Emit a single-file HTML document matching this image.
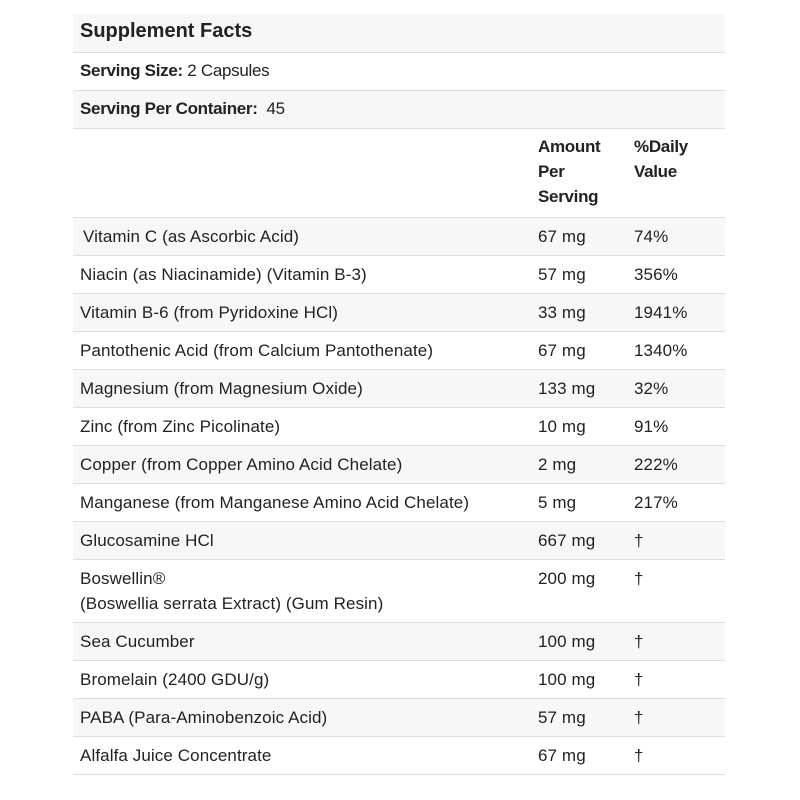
<!DOCTYPE html>
<html><head><meta charset="utf-8"><style>
body{margin:0;width:800px;height:800px;background:#fff;font-family:"Liberation Sans",sans-serif;color:#222;position:relative;overflow:hidden}
.r{position:absolute;left:73px;width:652px;border-bottom:1px solid #ddd;box-sizing:border-box}
.g{background:#f7f7f7}
.t{position:absolute;font-size:17px;letter-spacing:0.1px;white-space:nowrap;line-height:25px}
b{font-weight:bold}
</style></head><body>
<div class="r g" style="top:14px;height:39px"></div>
<div class="t" style="left:80px;top:19px;font-size:20px;font-weight:bold;letter-spacing:0">Supplement Facts</div>
<div class="r" style="top:53px;height:38px"></div>
<div class="t" style="left:80px;top:58px;letter-spacing:-0.3px"><b>Serving Size:</b> 2 Capsules</div>
<div class="r g" style="top:91px;height:38px"></div>
<div class="t" style="left:80px;top:96px;letter-spacing:-0.3px"><b>Serving Per Container:</b>&nbsp; 45</div>
<div class="r" style="top:129px;height:89px"></div>
<div class="t" style="left:538px;top:134px;font-weight:bold;letter-spacing:-0.3px">Amount<br>Per<br>Serving</div>
<div class="t" style="left:634px;top:134px;font-weight:bold;letter-spacing:-0.3px">%Daily<br>Value</div>

<div class="r g" style="top:218px;height:38px"></div>
<div class="t" style="left:83px;top:224px">Vitamin C (as Ascorbic Acid)</div><div class="t" style="left:538px;top:224px">67 mg</div><div class="t" style="left:634px;top:224px">74%</div>
<div class="r" style="top:256px;height:38px"></div>
<div class="t" style="left:80px;top:262px">Niacin (as Niacinamide) (Vitamin B-3)</div><div class="t" style="left:538px;top:262px">57 mg</div><div class="t" style="left:634px;top:262px">356%</div>
<div class="r g" style="top:294px;height:38px"></div>
<div class="t" style="left:80px;top:300px">Vitamin B-6 (from Pyridoxine HCl)</div><div class="t" style="left:538px;top:300px">33 mg</div><div class="t" style="left:634px;top:300px">1941%</div>
<div class="r" style="top:332px;height:38px"></div>
<div class="t" style="left:80px;top:338px">Pantothenic Acid (from Calcium Pantothenate)</div><div class="t" style="left:538px;top:338px">67 mg</div><div class="t" style="left:634px;top:338px">1340%</div>
<div class="r g" style="top:370px;height:38px"></div>
<div class="t" style="left:80px;top:376px">Magnesium (from Magnesium Oxide)</div><div class="t" style="left:538px;top:376px">133 mg</div><div class="t" style="left:634px;top:376px">32%</div>
<div class="r" style="top:408px;height:38px"></div>
<div class="t" style="left:80px;top:414px">Zinc (from Zinc Picolinate)</div><div class="t" style="left:538px;top:414px">10 mg</div><div class="t" style="left:634px;top:414px">91%</div>
<div class="r g" style="top:446px;height:38px"></div>
<div class="t" style="left:80px;top:452px">Copper (from Copper Amino Acid Chelate)</div><div class="t" style="left:538px;top:452px">2 mg</div><div class="t" style="left:634px;top:452px">222%</div>
<div class="r" style="top:484px;height:38px"></div>
<div class="t" style="left:80px;top:490px">Manganese (from Manganese Amino Acid Chelate)</div><div class="t" style="left:538px;top:490px">5 mg</div><div class="t" style="left:634px;top:490px">217%</div>
<div class="r g" style="top:522px;height:38px"></div>
<div class="t" style="left:80px;top:528px">Glucosamine HCl</div><div class="t" style="left:538px;top:528px">667 mg</div><div class="t" style="left:634px;top:528px">†</div>
<div class="r" style="top:560px;height:63px"></div>
<div class="t" style="left:80px;top:566px">Boswellin®<br>(Boswellia serrata Extract) (Gum Resin)</div><div class="t" style="left:538px;top:566px">200 mg</div><div class="t" style="left:634px;top:566px">†</div>
<div class="r g" style="top:623px;height:38px"></div>
<div class="t" style="left:80px;top:629px">Sea Cucumber</div><div class="t" style="left:538px;top:629px">100 mg</div><div class="t" style="left:634px;top:629px">†</div>
<div class="r" style="top:661px;height:38px"></div>
<div class="t" style="left:80px;top:667px">Bromelain (2400 GDU/g)</div><div class="t" style="left:538px;top:667px">100 mg</div><div class="t" style="left:634px;top:667px">†</div>
<div class="r g" style="top:699px;height:38px"></div>
<div class="t" style="left:80px;top:705px">PABA (Para-Aminobenzoic Acid)</div><div class="t" style="left:538px;top:705px">57 mg</div><div class="t" style="left:634px;top:705px">†</div>
<div class="r" style="top:737px;height:38px"></div>
<div class="t" style="left:80px;top:743px">Alfalfa Juice Concentrate</div><div class="t" style="left:538px;top:743px">67 mg</div><div class="t" style="left:634px;top:743px">†</div>
</body></html>
